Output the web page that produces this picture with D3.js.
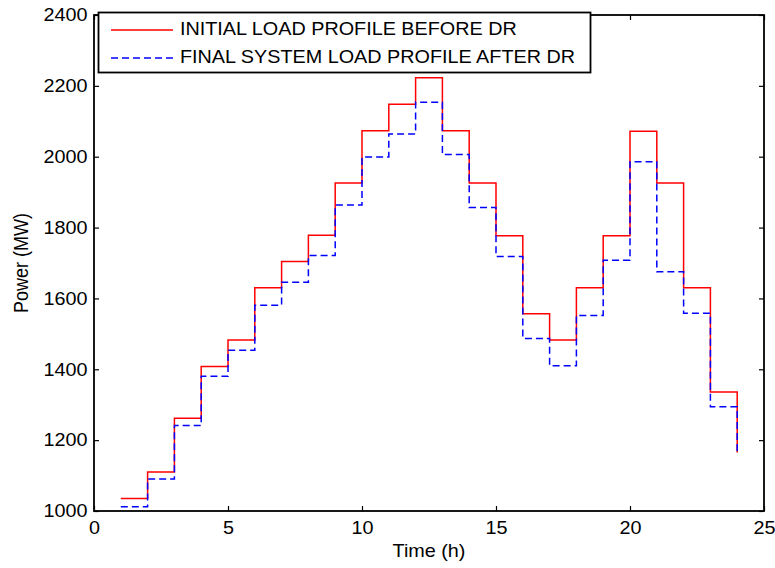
<!DOCTYPE html>
<html>
<head>
<meta charset="utf-8">
<script src="https://cdn.jsdelivr.net/npm/d3@7"></script>
<style>
  body { margin: 0; background: #fff; }
  svg { display: block; font-family: Arial, "Liberation Sans", sans-serif; }
</style>
</head>
<body>
<svg></svg>
<script>
const hours = d3.range(1, 25)
const initialLoad = [1035, 1110, 1262, 1408, 1483, 1630, 1704, 1778, 1926, 2073, 2148, 2223,
  2073, 1926, 1777, 1557, 1483, 1630, 1777, 2072, 1926, 1630, 1336, 1165]
const finalLoad = [1012, 1090, 1241, 1380, 1454, 1581, 1646, 1721, 1864, 1999, 2064, 2154,
  2006, 1857, 1718, 1487, 1410, 1552, 1708, 1986, 1675, 1558, 1294, 1164]
const xTicks = [0, 5, 10, 15, 20, 25]
const yTicks = [1000, 1200, 1400, 1600, 1800, 2000, 2200, 2400]
const legendLabels = ['INITIAL LOAD PROFILE BEFORE DR', 'FINAL SYSTEM LOAD PROFILE AFTER DR']

const width = 775
const height = 568
const margin = { top: 15, right: 11, bottom: 57, left: 94 }

const svg = d3.select('svg')
  .attr('width', width)
  .attr('height', height)
  .attr('viewBox', [0, 0, width, height])

const x = d3.scaleLinear().domain([0, 25]).range([margin.left, width - margin.right])
const y = d3.scaleLinear().domain([1000, 2400]).range([height - margin.bottom, margin.top])

// 原图文字横向略宽，用 scaleX 拉伸
const tickLen = 5
const fontSize = 18
const stretch = 'scale(1.1,1)'

svg.append('g')
  .attr('transform', `translate(0,${y(1000)})`)
  .call(d3.axisBottom(x).tickValues(xTicks).tickSize(-tickLen).tickPadding(10).tickFormat(d3.format('d')))
  .call(g => g.select('.domain').remove())
  .call(g => g.selectAll('text').attr('font-size', fontSize).attr('fill', '#000').attr('font-family', null)
    .attr('transform', stretch))
  .call(g => g.selectAll('.tick line').attr('stroke-width', 1.2))

svg.append('g')
  .attr('transform', `translate(0,${y(2400)})`)
  .call(d3.axisTop(x).tickValues(xTicks).tickSize(-tickLen).tickFormat(''))
  .call(g => g.select('.domain').remove())
  .call(g => g.selectAll('.tick line').attr('stroke-width', 1.2))

svg.append('g')
  .attr('transform', `translate(${x(0)},0)`)
  .call(d3.axisLeft(y).tickValues(yTicks).tickSize(-tickLen).tickPadding(6).tickFormat(d3.format('d')))
  .call(g => g.select('.domain').remove())
  .call(g => g.selectAll('text').attr('font-size', fontSize).attr('fill', '#000').attr('font-family', null)
    .attr('transform', stretch))
  .call(g => g.selectAll('.tick line').attr('stroke-width', 1.2))

svg.append('g')
  .attr('transform', `translate(${x(25)},0)`)
  .call(d3.axisRight(y).tickValues(yTicks).tickSize(-tickLen).tickFormat(''))
  .call(g => g.select('.domain').remove())
  .call(g => g.selectAll('.tick line').attr('stroke-width', 1.2))

// 数据线
const line = d3.line()
  .x((d, i) => x(hours[i]))
  .y(d => y(d))
  .curve(d3.curveStepAfter)

svg.append('path')
  .datum(initialLoad)
  .attr('d', line)
  .attr('fill', 'none')
  .attr('stroke', '#ff0000')
  .attr('stroke-width', 1.5)

svg.append('path')
  .datum(finalLoad)
  .attr('d', line)
  .attr('fill', 'none')
  .attr('stroke', '#0000ff')
  .attr('stroke-width', 1.5)
  .attr('stroke-dasharray', '7,4')

// 外框
svg.append('rect')
  .attr('x', x(0))
  .attr('y', y(2400))
  .attr('width', x(25) - x(0))
  .attr('height', y(1000) - y(2400))
  .attr('fill', 'none')
  .attr('stroke', '#000')
  .attr('stroke-width', 1.8)

// 轴标题
svg.append('text')
  .text('Time (h)')
  .attr('transform', `translate(${(x(0) + x(25)) / 2},552) ${stretch}`)
  .attr('text-anchor', 'middle')
  .attr('dominant-baseline', 'middle')
  .attr('font-size', fontSize)

svg.append('text')
  .text('Power (MW)')
  .attr('transform', `translate(23,${(y(1000) + y(2400)) / 2}) rotate(-90) scale(1,1.1)`)
  .attr('text-anchor', 'middle')
  .attr('dominant-baseline', 'middle')
  .attr('font-size', fontSize)

// 图例
const legend = svg.append('g')
legend.append('rect')
  .attr('x', 98.5)
  .attr('y', 12.5)
  .attr('width', 492)
  .attr('height', 60)
  .attr('fill', '#fff')
  .attr('stroke', '#000')
  .attr('stroke-width', 1.8)

const legendStyles = [
  { color: '#ff0000', dash: null },
  { color: '#0000ff', dash: '7,4' }
]

legendLabels.forEach((label, i) => {
  const ly = 30 + i * 28
  legend.append('line')
    .attr('x1', 111).attr('x2', 173)
    .attr('y1', ly).attr('y2', ly)
    .attr('stroke', legendStyles[i].color)
    .attr('stroke-width', 1.5)
    .attr('stroke-dasharray', legendStyles[i].dash)
  legend.append('text')
    .text(label)
    .attr('transform', `translate(180,${ly}) ${stretch}`)
    .attr('dominant-baseline', 'middle')
    .attr('font-size', fontSize)
})
</script>
</body>
</html>
